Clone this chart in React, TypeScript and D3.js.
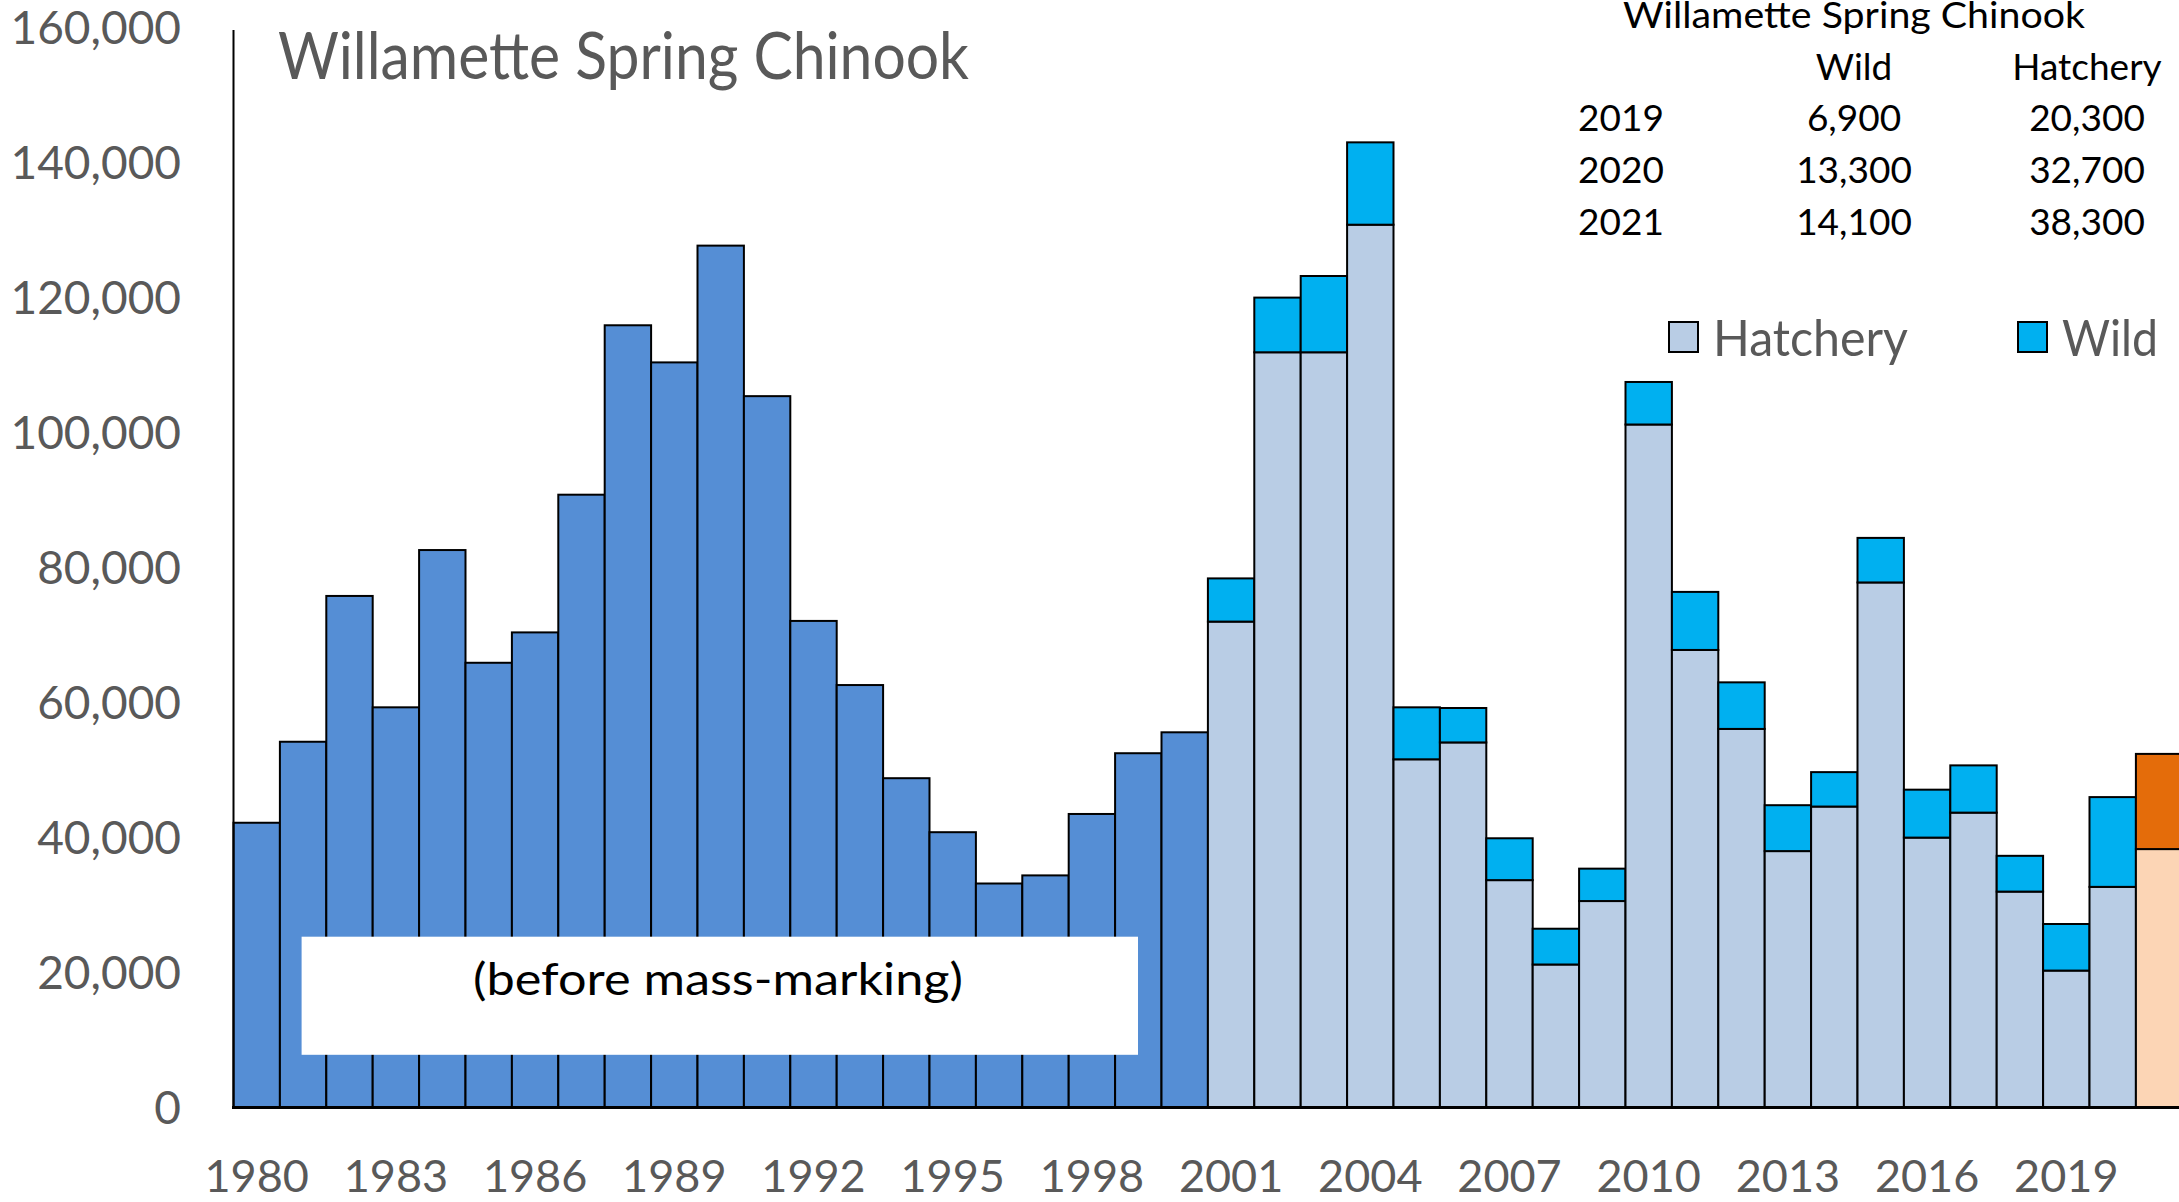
import React from "react";
import * as d3 from "d3";

const years = [1980,1981,1982,1983,1984,1985,1986,1987,1988,1989,1990,1991,1992,1993,1994,1995,1996,1997,1998,1999,2000,2001,2002,2003,2004,2005,2006,2007,2008,2009,2010,2011,2012,2013,2014,2015,2016,2017,2018,2019,2020,2021];
const preYears = [1980,1981,1982,1983,1984,1985,1986,1987,1988,1989,1990,1991,1992,1993,1994,1995,1996,1997,1998,1999,2000];
const preTotals = [42200,54200,75800,59300,82600,65900,70400,90800,115900,110400,127700,105400,72100,62600,48800,40800,33200,34400,43500,52500,55600];
const postYears = [2001,2002,2003,2004,2005,2006,2007,2008,2009,2010,2011,2012,2013,2014,2015,2016,2017,2018,2019,2020,2021];
const hatchery = [72000,111900,111900,130800,51600,54100,33700,21200,30600,101200,67800,56100,38000,44600,77800,40000,43700,32000,20300,32700,38300];
const wild = [6400,8100,11300,12200,7700,5100,6200,5300,4800,6300,8600,6900,6800,5100,6600,7100,7000,5300,6900,13300,14100];
const yTicks = [0,20000,40000,60000,80000,100000,120000,140000,160000];
const xTickYears = [1980,1983,1986,1989,1992,1995,1998,2001,2004,2007,2010,2013,2016,2019];
const tableYears = [2019,2020,2021];

const W = 2179, H = 1202;
const FONT = "Lato, 'Open Sans', sans-serif";
const GREY = "#595959";

export default function App() {
  const x = d3.scaleBand<number>().domain(years).range([233.5, 233.5 + 42 * 46.4]).padding(0);
  const y = d3.scaleLinear().domain([0, 160000]).range([1107.6, 27.6]);
  const fmt = d3.format(",");
  const bw = x.bandwidth();

  return (
    <svg width={W} height={H} style={{ position: "absolute", left: 0, top: 0, background: "#fff" }}>
      {/* y tick labels */}
      {yTicks.map((t) => (
        <text key={t} x={181} y={y(t)} dy="0.36em" textAnchor="end" fontFamily={FONT} fontSize={46} fill={GREY}>
          {fmt(t)}
        </text>
      ))}
      {/* pre mass-marking bars */}
      {preYears.map((yr, i) => (
        <rect key={"p" + yr} x={x(yr)} y={y(preTotals[i])} width={bw} height={y(0) - y(preTotals[i])}
          fill="#558ED5" stroke="#000" strokeWidth={2} />
      ))}
      {/* post bars */}
      {postYears.map((yr, i) => {
        const last = yr === 2021;
        return (
          <g key={"h" + yr}>
            <rect x={x(yr)} y={y(hatchery[i])} width={bw} height={y(0) - y(hatchery[i])}
              fill={last ? "#FCD5B5" : "#B9CDE5"} stroke="#000" strokeWidth={2} />
            <rect x={x(yr)} y={y(hatchery[i] + wild[i])} width={bw} height={y(hatchery[i]) - y(hatchery[i] + wild[i])}
              fill={last ? "#E46C0A" : "#00B0F0"} stroke="#000" strokeWidth={2} />
          </g>
        );
      })}
      {/* axes */}
      <line x1={233.5} x2={233.5} y1={30} y2={y(0)} stroke="#000" strokeWidth={2} />
      <line x1={232} x2={W} y1={y(0)} y2={y(0)} stroke="#000" strokeWidth={3} />
      {/* x tick labels */}
      {xTickYears.map((yr) => (
        <text key={yr} x={(x(yr) as number) + bw / 2} y={1192} textAnchor="middle" fontFamily={FONT} fontSize={45} fill={GREY}>
          {yr}
        </text>
      ))}
      {/* title */}
      <text x={278} y={79} fontFamily={FONT} fontSize={66} fill={GREY} textLength={691} lengthAdjust="spacingAndGlyphs">
        Willamette Spring Chinook
      </text>
      {/* annotation box */}
      <rect x={301.6} y={936.7} width={836.4} height={118.1} fill="#fff" />
      <text x={718} y={995} textAnchor="middle" fontFamily={FONT} fontSize={44} fill="#000" textLength={490} lengthAdjust="spacingAndGlyphs">
        (before mass-marking)
      </text>
      {/* table */}
      <text x={1854} y={28} textAnchor="middle" fontFamily={FONT} fontSize={37} fill="#000" textLength={462} lengthAdjust="spacingAndGlyphs">
        Willamette Spring Chinook
      </text>
      <text x={1854} y={80} textAnchor="middle" fontFamily={FONT} fontSize={37} fill="#000">Wild</text>
      <text x={2087} y={80} textAnchor="middle" fontFamily={FONT} fontSize={37} fill="#000">Hatchery</text>
      {tableYears.map((yr, i) => {
        const idx = postYears.indexOf(yr);
        const by = 131 + i * 52;
        return (
          <g key={"t" + yr}>
            <text x={1621} y={by} textAnchor="middle" fontFamily={FONT} fontSize={37} fill="#000">{yr}</text>
            <text x={1854} y={by} textAnchor="middle" fontFamily={FONT} fontSize={37} fill="#000">{fmt(wild[idx])}</text>
            <text x={2087} y={by} textAnchor="middle" fontFamily={FONT} fontSize={37} fill="#000">{fmt(hatchery[idx])}</text>
          </g>
        );
      })}
      {/* legend */}
      <rect x={1669} y={322} width={29} height={30} fill="#B9CDE5" stroke="#000" strokeWidth={2} />
      <text x={1713} y={356} fontFamily={FONT} fontSize={50} fill={GREY} textLength={195} lengthAdjust="spacingAndGlyphs">Hatchery</text>
      <rect x={2018} y={322} width={29} height={30} fill="#00B0F0" stroke="#000" strokeWidth={2} />
      <text x={2062} y={356} fontFamily={FONT} fontSize={50} fill={GREY} textLength={96} lengthAdjust="spacingAndGlyphs">Wild</text>
    </svg>
  );
}
